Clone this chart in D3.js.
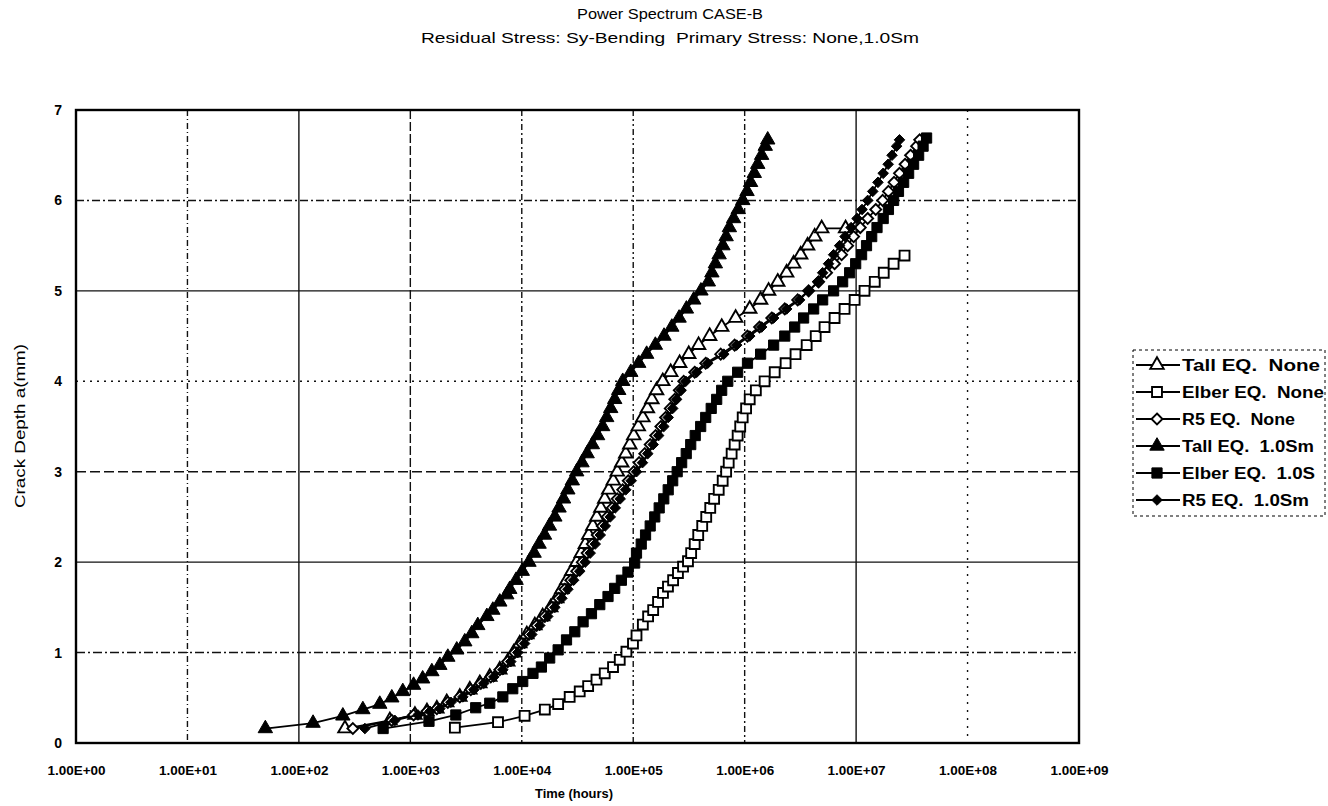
<!DOCTYPE html>
<html>
<head>
<meta charset="utf-8">
<script src="https://cdn.jsdelivr.net/npm/d3@7"></script>
<style>
  body { margin: 0; background: #fff; }
  text { font-family: "Liberation Sans", Arial, sans-serif; fill: #000; }
</style>
</head>
<body>
<svg id="chart" width="1328" height="806"></svg>
<script>
// ---- Data: crack depth a (mm) against time (hours) ----
const seriesNames = ["Tall EQ.  None", "Elber EQ.  None", "R5 EQ.  None",
                     "Tall EQ.  1.0Sm", "Elber EQ.  1.0S", "R5 EQ.  1.0Sm"];

const tallNoneDepth = [0.16,0.25,0.31,0.35,0.38,0.45,0.51,0.59,0.66,0.73,0.81,0.90,
  1.0,1.1,1.2,1.3,1.4,1.5,1.6,1.7,1.8,1.9,2.0,2.1,2.2,2.3,2.4,2.5,2.6,2.7,2.8,2.9,
  3.0,3.1,3.2,3.3,3.4,3.5,3.6,3.7,3.8,3.9,4.0,4.1,4.2,4.3,4.4,4.5,4.6,4.7,4.8,4.9,
  5.0,5.1,5.2,5.3,5.4,5.5,5.6,5.69,5.69];
const tallNoneHours = [259,655,1.10e3,1.41e3,1.73e3,2.12e3,2.78e3,3.42e3,4.20e3,5.16e3,6.35e3,7.48e3,
  8.47e3,9.59e3,1.11e4,1.31e4,1.54e4,1.82e4,2.06e4,2.29e4,2.54e4,2.81e4,3.11e4,3.42e4,3.72e4,3.99e4,4.34e4,4.71e4,5.12e4,5.55e4,6.03e4,6.62e4,
  7.19e4,7.89e4,8.57e4,9.31e4,1.01e5,1.11e5,1.22e5,1.34e5,1.47e5,1.62e5,1.84e5,2.17e5,2.61e5,3.15e5,3.86e5,4.85e5,6.22e5,8.30e5,1.11e6,1.39e6,
  1.64e6,1.98e6,2.38e6,2.75e6,3.18e6,3.67e6,4.25e6,4.91e6,8.05e6];

const elberNoneDepth = [0.17,0.23,0.30,0.37,0.43,0.51,0.57,0.63,0.70,0.77,0.84,0.92,1.01,1.10,1.19,1.31,1.40,1.47,1.56,1.66,1.73,1.80,1.88,1.95,2.01,
  2.1,2.2,2.3,2.4,2.5,2.6,2.7,2.8,2.9,3.0,3.1,3.2,3.3,3.4,3.5,3.6,3.7,3.8,3.9,4.0,
  4.1,4.2,4.3,4.4,4.5,4.6,4.7,4.8,4.9,5.0,5.1,5.2,5.3,5.39];
const elberNoneHours = [2.51e3,6.12e3,1.06e4,1.61e4,2.12e4,2.69e4,3.31e4,3.94e4,4.68e4,5.55e4,6.59e4,7.57e4,8.69e4,9.95e4,1.07e5,1.22e5,1.36e5,1.51e5,1.67e5,1.85e5,2.05e5,2.28e5,2.52e5,2.80e5,3.10e5,
  3.31e5,3.56e5,3.83e5,4.16e5,4.52e5,4.91e5,5.32e5,5.85e5,6.35e5,6.82e5,7.19e5,7.64e5,8.13e5,8.65e5,9.12e5,9.60e5,1.03e6,1.11e6,1.26e6,1.51e6,
  1.86e6,2.33e6,2.86e6,3.60e6,4.34e6,5.21e6,6.41e6,7.88e6,9.70e6,1.19e7,1.47e7,1.77e7,2.17e7,2.72e7];

const r5Depth = [0.16,0.25,0.31,0.35,0.38,0.45,0.51,0.59,0.66,0.73,0.81,0.90,
  1.0,1.1,1.2,1.3,1.4,1.5,1.6,1.7,1.8,1.9,2.0,2.1,2.2,2.3,2.4,2.5,2.6,2.7,2.8,2.9,
  3.0,3.1,3.2,3.3,3.4,3.5,3.6,3.7,3.8,3.9,4.0,4.1,4.2,4.3,4.4,4.5,4.6,4.7,4.8,4.9,
  5.0,5.1,5.2,5.3,5.4,5.5,5.6,5.7,5.8,5.9,6.0,6.1,6.2,6.3,6.4,6.5,6.6,6.67];
const r5NoneHours = [305,682,1.07e3,1.41e3,1.73e3,2.17e3,2.78e3,3.49e3,4.29e3,5.27e3,6.35e3,7.48e3,
  8.65e3,1.00e4,1.16e4,1.36e4,1.61e4,1.86e4,2.15e4,2.43e4,2.75e4,3.11e4,3.49e4,3.86e4,4.29e4,4.75e4,5.27e4,5.85e4,6.49e4,7.19e4,8.05e4,9.02e4,
  1.01e5,1.13e5,1.27e5,1.42e5,1.59e5,1.77e5,1.95e5,2.15e5,2.36e5,2.59e5,2.84e5,3.56e5,4.47e5,6.10e5,8.13e5,1.06e6,1.36e6,1.75e6,2.29e6,2.99e6,
  3.75e6,4.61e6,5.43e6,6.41e6,7.41e6,8.39e6,9.50e6,1.09e7,1.27e7,1.50e7,1.73e7,1.95e7,2.19e7,2.45e7,2.75e7,3.08e7,3.49e7,3.72e7];

const tallSmDepth = [0.16,0.22,0.30,0.37,0.43,0.50,0.57,0.64,0.71,0.79,0.86,0.95,1.03,1.12,1.21,1.30,1.40,1.47,1.56,1.64,1.70,
  1.8,1.9,2.0,2.1,2.2,2.3,2.4,2.5,2.6,2.7,2.8,2.9,3.0,3.1,3.2,3.3,3.4,3.5,3.6,3.7,3.8,3.9,
  4.0,4.1,4.2,4.3,4.4,4.5,4.6,4.7,4.8,4.9,5.0,5.1,5.2,5.3,5.4,5.5,5.6,5.7,5.8,5.9,
  6.0,6.1,6.2,6.3,6.4,6.5,6.6,6.67];
const tallSmHours = [50,134,248,375,532,682,856,1.07e3,1.29e3,1.56e3,1.84e3,2.17e3,2.61e3,3.08e3,3.56e3,4.03e3,4.86e3,5.50e3,6.35e3,7.33e3,7.80e3,
  8.89e3,1.01e4,1.16e4,1.29e4,1.43e4,1.60e4,1.77e4,1.98e4,2.16e4,2.37e4,2.59e4,2.84e4,3.11e4,3.47e4,3.86e4,4.30e4,4.79e4,5.32e4,5.78e4,6.28e4,6.82e4,7.41e4,
  8.05e4,9.51e4,1.12e5,1.32e5,1.58e5,1.89e5,2.22e5,2.58e5,3.00e5,3.49e5,4.05e5,4.72e5,5.08e5,5.46e5,5.90e5,6.38e5,6.82e5,7.29e5,7.96e5,8.75e5,
  9.62e5,1.05e6,1.13e6,1.22e6,1.31e6,1.42e6,1.53e6,1.61e6];

const elberSDepth = [0.16,0.24,0.31,0.39,0.44,0.51,0.60,0.68,0.77,0.84,0.94,1.03,1.14,1.23,1.34,1.43,1.53,1.62,1.71,1.80,1.89,1.99,
  2.1,2.2,2.3,2.4,2.5,2.6,2.7,2.8,2.9,3.0,3.1,3.2,3.3,3.4,3.5,3.6,3.7,3.8,3.9,4.0,
  4.1,4.2,4.3,4.4,4.5,4.6,4.7,4.8,4.9,5.0,5.1,5.2,5.3,5.4,5.5,5.6,5.7,5.8,5.9,6.0,
  6.1,6.2,6.3,6.4,6.5,6.6,6.69];
const elberSHours = [570,1.47e3,2.56e3,3.86e3,5.16e3,6.76e3,8.30e3,1.02e4,1.26e4,1.50e4,1.78e4,2.12e4,2.52e4,2.99e4,3.55e4,4.22e4,5.01e4,5.94e4,6.82e4,7.83e4,8.97e4,1.03e5,
  1.07e5,1.18e5,1.29e5,1.42e5,1.56e5,1.71e5,1.88e5,2.06e5,2.26e5,2.48e5,2.72e5,2.99e5,3.28e5,3.60e5,4.03e5,4.47e5,5.01e5,5.61e5,6.22e5,7.05e5,
  8.65e5,1.06e6,1.39e6,1.82e6,2.29e6,2.81e6,3.38e6,4.16e6,5.01e6,6.28e6,7.57e6,8.75e6,9.91e6,1.12e7,1.24e7,1.38e7,1.54e7,1.75e7,1.95e7,2.17e7,
  2.40e7,2.67e7,2.96e7,3.28e7,3.64e7,3.99e7,4.29e7];

const r5SmHours = [391,726,1.17e3,1.50e3,1.84e3,2.31e3,2.96e3,3.72e3,4.56e3,5.61e3,6.76e3,7.96e3,
  9.20e3,1.06e4,1.23e4,1.45e4,1.71e4,1.98e4,2.29e4,2.59e4,2.92e4,3.31e4,3.71e4,4.11e4,4.56e4,5.06e4,5.61e4,6.22e4,6.90e4,7.64e4,8.57e4,9.59e4,
  1.07e5,1.21e5,1.35e5,1.51e5,1.69e5,1.88e5,2.06e5,2.26e5,2.45e5,2.69e5,2.96e5,3.71e5,4.66e5,6.49e5,8.47e5,1.11e6,1.42e6,1.82e6,2.38e6,3.11e6,
  3.75e6,4.52e6,5.01e6,5.66e6,6.28e6,7.11e6,7.96e6,9.02e6,1.02e7,1.13e7,1.27e7,1.41e7,1.57e7,1.75e7,1.94e7,2.10e7,2.31e7,2.45e7];

const xTickValues = [1e0,1e1,1e2,1e3,1e4,1e5,1e6,1e7,1e8,1e9];
const xTickLabels = ["1.00E+00","1.00E+01","1.00E+02","1.00E+03","1.00E+04",
                     "1.00E+05","1.00E+06","1.00E+07","1.00E+08","1.00E+09"];
const yTickValues = [0,1,2,3,4,5,6,7];

// ---- Layout ----
const svg = d3.select("#chart");
const plot = { left: 76, right: 1079, top: 110, bottom: 743 };

const x = d3.scaleLog().domain([1, 1e9]).range([plot.left, plot.right]);
const y = d3.scaleLinear().domain([0, 7]).range([plot.bottom, plot.top]);

// Titles
svg.append("text").attr("x", 670).attr("y", 19).attr("text-anchor", "middle")
  .attr("font-size", 14).attr("textLength", 186).attr("lengthAdjust", "spacingAndGlyphs")
  .text("Power Spectrum CASE-B");
svg.append("text").attr("x", 670).attr("y", 43).attr("text-anchor", "middle")
  .attr("font-size", 15).attr("textLength", 498).attr("lengthAdjust", "spacingAndGlyphs")
  .style("white-space", "pre")
  .text("Residual Stress: Sy-Bending  Primary Stress: None,1.0Sm");

// Grid lines with the mixed dash patterns of the printed sheet
const yGridDash = { 1: "9,3,2,3", 2: null, 3: "10,4", 4: "2,5", 5: null, 6: "8,3,2,3" };
const xGridDash = { 1: "6,3,1,3", 2: null, 3: "9,3", 4: "6,3,2,3", 5: "6,3,2,3,2,3", 6: "6,3,2,3", 7: null, 8: "2,6" };

const grid = svg.append("g");
yTickValues.filter(v => v > 0 && v < 7).forEach(v => {
  grid.append("line")
    .attr("x1", plot.left).attr("x2", plot.right)
    .attr("y1", y(v)).attr("y2", y(v))
    .attr("stroke", "#111").attr("stroke-width", 1.4)
    .attr("stroke-dasharray", yGridDash[v]);
});
xTickValues.slice(1, -1).forEach((v, i) => {
  grid.append("line")
    .attr("x1", x(v)).attr("x2", x(v))
    .attr("y1", plot.top).attr("y2", plot.bottom)
    .attr("stroke", "#111").attr("stroke-width", 1.4)
    .attr("stroke-dasharray", xGridDash[i + 1]);
});

// Axes
const xAxis = d3.axisBottom(x).tickValues(xTickValues)
  .tickFormat((d, i) => xTickLabels[i]).tickSize(0).tickPadding(22);
const gx = svg.append("g").attr("transform", `translate(0,${plot.bottom})`).call(xAxis);
gx.select(".domain").remove();
gx.selectAll("text").attr("font-size", 13.5).attr("font-weight", "bold")
  .attr("textLength", 58).attr("lengthAdjust", "spacingAndGlyphs")
  .style("font-family", "'Liberation Sans', Arial, sans-serif");

const yAxis = d3.axisLeft(y).tickValues(yTickValues).tickFormat(d3.format("d"))
  .tickSize(0).tickPadding(14);
const gy = svg.append("g").attr("transform", `translate(${plot.left},0)`).call(yAxis);
gy.select(".domain").remove();
gy.selectAll("text").attr("font-size", 14).attr("font-weight", "bold")
  .style("font-family", "'Liberation Sans', Arial, sans-serif");

// Plot frame
svg.append("rect")
  .attr("x", plot.left).attr("y", plot.top)
  .attr("width", plot.right - plot.left).attr("height", plot.bottom - plot.top)
  .attr("fill", "none").attr("stroke", "#000").attr("stroke-width", 2.4);

// Axis titles
svg.append("text").attr("x", 574).attr("y", 798).attr("text-anchor", "middle")
  .attr("font-size", 13).attr("font-weight", "bold")
  .attr("textLength", 78).attr("lengthAdjust", "spacingAndGlyphs").text("Time (hours)");
svg.append("text").attr("transform", "translate(25,426) rotate(-90)")
  .attr("text-anchor", "middle").attr("font-size", 14)
  .attr("textLength", 164).attr("lengthAdjust", "spacingAndGlyphs").text("Crack Depth a(mm)");

// Marker shapes
const diamondSym = {
  draw(ctx, size) {
    const r = Math.sqrt(size / 2);
    ctx.moveTo(0, -r); ctx.lineTo(r, 0); ctx.lineTo(0, r); ctx.lineTo(-r, 0); ctx.closePath();
  }
};
const series = [
  { name: seriesNames[0], depth: tallNoneDepth, hours: tallNoneHours, sym: d3.symbolTriangle, size: 78, open: true },
  { name: seriesNames[1], depth: elberNoneDepth, hours: elberNoneHours, sym: d3.symbolSquare, size: 98, open: true },
  { name: seriesNames[2], depth: r5Depth, hours: r5NoneHours, sym: diamondSym, size: 60, open: true },
  { name: seriesNames[3], depth: tallSmDepth, hours: tallSmHours, sym: d3.symbolTriangle, size: 90, open: false },
  { name: seriesNames[4], depth: elberSDepth, hours: elberSHours, sym: d3.symbolSquare, size: 104, open: false },
  { name: seriesNames[5], depth: r5Depth, hours: r5SmHours, sym: diamondSym, size: 56, open: false }
];

const line = d3.line().x(d => x(d.t)).y(d => y(d.a));
const marks = svg.append("g");
series.forEach(s => {
  const pts = s.hours.map((t, i) => ({ t, a: s.depth[i] }));
  marks.append("path").datum(pts).attr("d", line)
    .attr("fill", "none").attr("stroke", "#000").attr("stroke-width", 1.8);
  marks.append("g").selectAll("path").data(pts).join("path")
    .attr("transform", d => `translate(${x(d.t)},${y(d.a)})`)
    .attr("d", d3.symbol(s.sym, s.size))
    .attr("fill", s.open ? "#fff" : "#000")
    .attr("stroke", "#000").attr("stroke-width", s.open ? 1.9 : 1);
});

// Legend
const legendTextWidth = [138, 142, 113, 132, 133, 127];
const legend = svg.append("g");
legend.append("rect").attr("x", 1133).attr("y", 350).attr("width", 192).attr("height", 166)
  .attr("fill", "#fff").attr("stroke", "#000").attr("stroke-width", 1)
  .attr("stroke-dasharray", "3,3");
series.forEach((s, i) => {
  const ly = 365 + i * 27;
  legend.append("line").attr("x1", 1136).attr("x2", 1180).attr("y1", ly).attr("y2", ly)
    .attr("stroke", "#000").attr("stroke-width", 1.8);
  legend.append("path").attr("transform", `translate(1157,${ly})`)
    .attr("d", d3.symbol(s.sym, s.size))
    .attr("fill", s.open ? "#fff" : "#000")
    .attr("stroke", "#000").attr("stroke-width", s.open ? 1.9 : 1);
  legend.append("text").attr("x", 1182).attr("y", ly + 6)
    .attr("font-size", 16).attr("font-weight", "bold")
    .attr("textLength", legendTextWidth[i]).attr("lengthAdjust", "spacingAndGlyphs")
    .style("white-space", "pre").text(s.name);
});
</script>
</body>
</html>
